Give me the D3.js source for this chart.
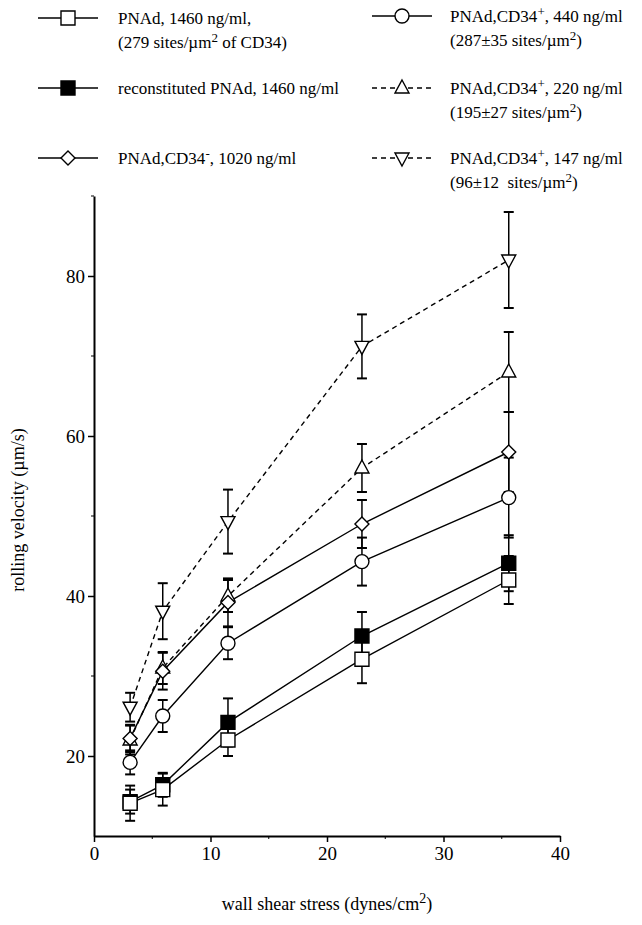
<!DOCTYPE html>
<html lang="en">
	<head>
		<meta charset="utf-8">
		<title>Rolling velocity vs wall shear stress</title>
		<script src="https://d3js.org/d3.v7.min.js"></script>
		<style type="text/css">
			body { margin: 0; background: #fff; }
			text { font-family: "Liberation Serif", "Times New Roman", serif; fill: #000; }
		</style>
	</head>
	<body>
		<svg id="chart" width="642" height="925"></svg>
	</body>
<script type="text/javascript">
  //Wall shear stress (dynes/cm2) at each measurement
  var shear = [3.1, 5.9, 11.5, 23.0, 35.6];

  //Rolling velocities (um/s) and error bars, one array per series
  var pnadVel      = [14.1, 15.8, 22.0, 32.1, 42.0];
  var pnadErr      = [2.2, 2.0, 2.0, 3.0, 3.0];
  var reconVel     = [14.3, 16.4, 24.2, 35.0, 44.1];
  var reconErr     = [1.5, 1.5, 3.0, 3.0, 3.5];
  var negVel       = [22.2, 30.6, 39.2, 49.0, 58.0];
  var negErr       = [1.7, 2.3, 3.0, 3.0, 5.0];
  var pos440Vel    = [19.2, 25.0, 34.1, 44.3, 52.3];
  var pos440Err    = [1.5, 2.0, 2.0, 3.0, 5.0];
  var pos220Vel    = [22.0, 31.0, 40.0, 56.0, 68.0];
  var pos220Err    = [1.8, 2.0, 2.0, 3.0, 5.0];
  var pos147Vel    = [26.1, 38.1, 49.3, 71.2, 82.0];
  var pos147Err    = [1.8, 3.5, 4.0, 4.0, 6.0];

  //Tick values
  var xTicks = [0, 10, 20, 30, 40];
  var xMinor = [5, 15, 25, 35];
  var yTicks = [20, 40, 60, 80];
  var yMinor = [30, 50, 70, 90];

  var series = [
    {vel: pnadVel,   err: pnadErr,   symbol: "square",  fill: "#fff", dash: null},
    {vel: reconVel,  err: reconErr,  symbol: "square",  fill: "#000", dash: null},
    {vel: negVel,    err: negErr,    symbol: "diamond", fill: "#fff", dash: null},
    {vel: pos440Vel, err: pos440Err, symbol: "circle",  fill: "#fff", dash: null},
    {vel: pos220Vel, err: pos220Err, symbol: "up",      fill: "#fff", dash: "5,4"},
    {vel: pos147Vel, err: pos147Err, symbol: "down",    fill: "#fff", dash: "5,4"}
  ];
  //markers drawn back to front (open squares sit over the filled ones)
  var drawOrder = [5, 4, 3, 2, 1, 0];

  var svg = d3.select("#chart");

  var xScale = d3.scaleLinear().domain([0, 40]).range([94, 560]);
  var yScale = d3.scaleLinear().domain([10, 90]).range([836, 196]);

  //Marker path centred on 0,0
  function markerPath(type) {
    if (type == "square") return "M-7,-7H7V7H-7Z";
    if (type == "diamond") return "M0,-7L7,0L0,7L-7,0Z";
    if (type == "up") return "M0,-8L7,5H-7Z";
    if (type == "down") return "M0,8L7,-5H-7Z";
    return "M7,0A7,7 0 1,1 -7,0A7,7 0 1,1 7,0Z";
  }

  //Axes
  var xAxis = d3.axisBottom(xScale).tickValues(xTicks).tickSize(6).tickSizeOuter(0).tickPadding(5);
  var yAxis = d3.axisLeft(yScale).tickValues(yTicks).tickSize(6).tickSizeOuter(0).tickPadding(3);

  var gx = svg.append("g")
      .attr("transform", "translate(0," + yScale(10) + ")")
      .call(xAxis);
  gx.selectAll("line.minor").data(xMinor).enter()
      .append("line")
      .attr("class", "minor")
      .attr("x1", function(d) { return xScale(d); })
      .attr("x2", function(d) { return xScale(d); })
      .attr("y1", 0).attr("y2", 3)
      .attr("stroke", "#000");

  var gy = svg.append("g")
      .attr("transform", "translate(" + xScale(0) + ",0)")
      .call(yAxis);
  gy.selectAll("line.minor").data(yMinor).enter()
      .append("line")
      .attr("class", "minor")
      .attr("x1", 0).attr("x2", -3)
      .attr("y1", function(d) { return yScale(d); })
      .attr("y2", function(d) { return yScale(d); })
      .attr("stroke", "#000");

  svg.selectAll(".domain").attr("stroke-width", 2);
  svg.selectAll(".tick line").attr("stroke-width", 1.5);
  svg.selectAll(".tick text")
      .attr("font-family", "Liberation Serif")
      .attr("font-size", "19px");

  //Axis titles
  var xt = svg.append("text")
      .attr("x", 327).attr("y", 910)
      .attr("text-anchor", "middle")
      .attr("font-size", "18px")
      .text("wall shear stress (dynes/cm");
  xt.append("tspan").attr("dy", -7).attr("font-size", "14px").text("2");
  xt.append("tspan").attr("dy", 7).text(")");

  svg.append("text")
      .attr("transform", "translate(24,510) rotate(-90)")
      .attr("text-anchor", "middle")
      .attr("font-size", "18px")
      .text("rolling velocity (\u00b5m/s)");

  //Error bars
  series.forEach(function(s) {
    var g = svg.append("g");
    g.selectAll("line.bar").data(s.vel).enter().append("line")
        .attr("x1", function(d, i) { return xScale(shear[i]); })
        .attr("x2", function(d, i) { return xScale(shear[i]); })
        .attr("y1", function(d, i) { return yScale(d + s.err[i]); })
        .attr("y2", function(d, i) { return yScale(d - s.err[i]); })
        .attr("stroke", "#000").attr("stroke-width", 1.5);
    [1, -1].forEach(function(sign) {
      g.selectAll("line.cap" + sign).data(s.vel).enter().append("line")
          .attr("x1", function(d, i) { return xScale(shear[i]) - 5; })
          .attr("x2", function(d, i) { return xScale(shear[i]) + 5; })
          .attr("y1", function(d, i) { return yScale(d + sign * s.err[i]); })
          .attr("y2", function(d, i) { return yScale(d + sign * s.err[i]); })
          .attr("stroke", "#000").attr("stroke-width", 2);
    });
  });

  //Lines
  var line = d3.line()
      .x(function(d, i) { return xScale(shear[i]); })
      .y(function(d) { return yScale(d); });

  series.forEach(function(s) {
    svg.append("path")
        .attr("d", line(s.vel))
        .attr("fill", "none")
        .attr("stroke", "#000")
        .attr("stroke-width", 1.4)
        .attr("stroke-dasharray", s.dash);
  });

  //Markers
  drawOrder.forEach(function(k) {
    var s = series[k];
    svg.append("g").selectAll("path").data(s.vel).enter().append("path")
        .attr("transform", function(d, i) { return "translate(" + xScale(shear[i]) + "," + yScale(d) + ")"; })
        .attr("d", markerPath(s.symbol))
        .attr("fill", s.fill)
        .attr("stroke", "#000")
        .attr("stroke-width", 1.4);
  });

  //Legend
  var legendRows = [
    {x: 38, y: 18, text: ["PNAd, 1460 ng/ml,", "(279 sites/\u00b5m|2| of CD34)"], s: 0},
    {x: 38, y: 88, text: ["reconstituted PNAd, 1460 ng/ml"], s: 1},
    {x: 38, y: 158, text: ["PNAd,CD34|-|, 1020 ng/ml"], s: 2},
    {x: 372, y: 16, text: ["PNAd,CD34|+|, 440 ng/ml", "(287\u00b135 sites/\u00b5m|2|)"], s: 3},
    {x: 372, y: 88, text: ["PNAd,CD34|+|, 220 ng/ml", "(195\u00b127 sites/\u00b5m|2|)"], s: 4},
    {x: 372, y: 158, text: ["PNAd,CD34|+|, 147 ng/ml", "(96\u00b112\u00a0 sites/\u00b5m|2|)"], s: 5}
  ];

  legendRows.forEach(function(r) {
    var s = series[r.s];
    var g = svg.append("g").attr("transform", "translate(" + r.x + "," + r.y + ")");
    g.append("line")
        .attr("x1", 0).attr("x2", 60)
        .attr("stroke", "#000").attr("stroke-width", 1.4)
        .attr("stroke-dasharray", s.dash);
    g.append("path")
        .attr("transform", "translate(30,0)")
        .attr("d", markerPath(s.symbol))
        .attr("fill", s.fill).attr("stroke", "#000").attr("stroke-width", 1.4);
    r.text.forEach(function(t, k) {
      var tx = g.append("text")
          .attr("x", r.x < 100 ? 80 : 78)
          .attr("y", 6 + k * 24)
          .attr("font-size", "17px");
      //parts between | | are superscripts
      t.split("|").forEach(function(part, j) {
        if (j % 2 == 1) {
          tx.append("tspan").attr("dy", -6).attr("font-size", "13px").text(part);
        } else if (j > 0) {
          tx.append("tspan").attr("dy", 6).text(part);
        } else {
          tx.append("tspan").text(part);
        }
      });
    });
  });
</script>

</html>
